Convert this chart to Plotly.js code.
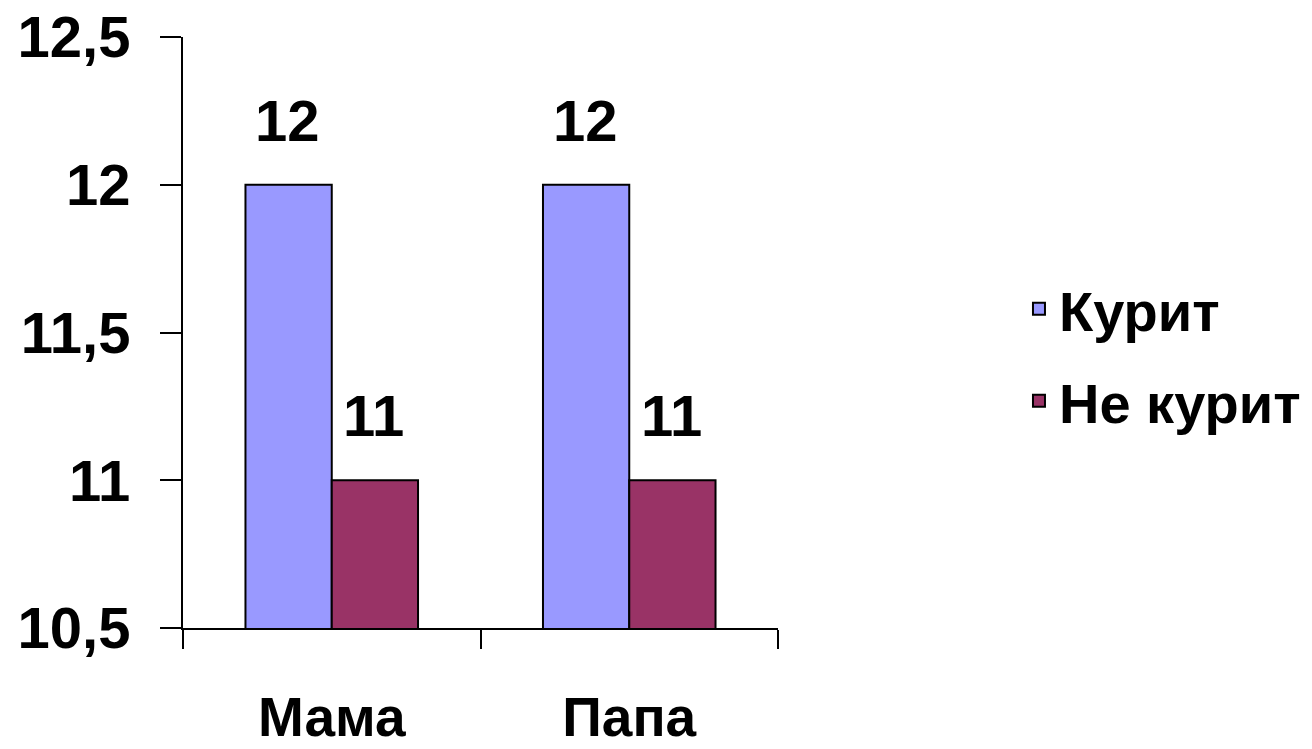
<!DOCTYPE html>
<html><head><meta charset="utf-8">
<script src="https://cdn.plot.ly/plotly-3.0.1.min.js"></script>
<style>html,body{margin:0;padding:0;background:#fff}#chart{width:1312px;height:749px}</style>
</head><body><div id="chart"></div>
<script>
const categories = ['Мама', 'Папа'];
const seriesNames = ['Курит', 'Не курит'];
const smokes = [12, 12];
const nonSmokes = [11, 11];
const yTicks = [10.5, 11, 11.5, 12, 12.5];

const FONT = 'Liberation Sans, Arial, sans-serif';
const colors = ['#9999FF', '#993366'];
const values = [smokes, nonSmokes];

const traces = values.map((v, i) => ({
  type: 'bar', name: seriesNames[i], x: categories, y: v,
  legendgroup: 'g' + i,
  marker: {color: colors[i], line: {color: '#000', width: 2}},
  hoverinfo: 'none'
}));

const annotations = [];
values.forEach((v, i) => {
  v.forEach((val, j) => {
    annotations.push({x: categories[j], y: val, xref: 'x', yref: 'y',
      text: String(val), showarrow: false, yanchor: 'bottom',
      xshift: i === 0 ? -44 : 42, yshift: 30,
      font: {family: FONT, size: 58, color: '#000', weight: 'bold'}});
  });
});

const layout = {
  width: 1312, height: 749,
  margin: {l: 183, r: 534, t: 37, b: 121, autoexpand: false},
  paper_bgcolor: '#fff', plot_bgcolor: '#fff',
  separators: ', ',
  barmode: 'group', bargap: 0.42, bargroupgap: 0,
  showlegend: true,
  legend: {x: 1.405, xanchor: 'left', y: 0.462, yanchor: 'middle',
    traceorder: 'grouped', tracegroupgap: 16, itemwidth: 30,
    font: {family: FONT, size: 56, color: '#000', weight: 'bold'}},
  xaxis: {type: 'category', range: [-0.5, 1.5], showline: true, linecolor: '#000', linewidth: 2,
    ticks: 'outside', tickson: 'boundaries', ticklen: 19, tickwidth: 2, tickcolor: '#000',
    ticklabelstandoff: 40, showgrid: false, zeroline: false,
    tickfont: {family: FONT, size: 55, color: '#000', weight: 'bold'}},
  yaxis: {range: [10.5, 12.5], showline: true, linecolor: '#000', linewidth: 2,
    tickmode: 'array', tickvals: yTicks, ticktext: yTicks.map(v => String(v).replace('.', ',')),
    ticks: 'outside', ticklen: 21, tickwidth: 2, tickcolor: '#000',
    ticklabelstandoff: 18, showgrid: false, zeroline: false,
    tickfont: {family: FONT, size: 58, color: '#000', weight: 'bold'}},
  annotations: annotations
};

Plotly.newPlot('chart', traces, layout, {displayModeBar: false, staticPlot: true});
</script></body></html>
